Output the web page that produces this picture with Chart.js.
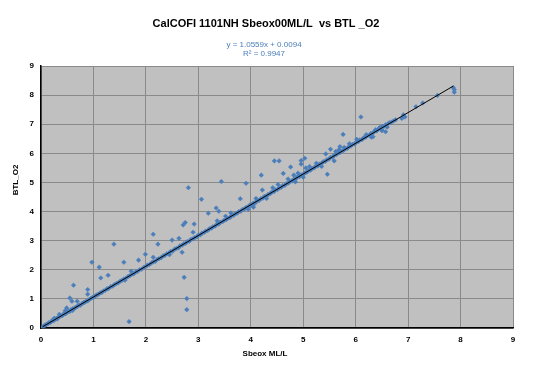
<!DOCTYPE html>
<html>
<head>
<meta charset="utf-8">
<script src="https://cdn.jsdelivr.net/npm/chart.js@4.4.1/dist/chart.umd.min.js"></script>
<style>
  html, body { margin: 0; padding: 0; background: #ffffff; }
  #wrap { width: 534px; height: 372px; }
</style>
</head>
<body>
<div id="wrap"><canvas id="c" width="534" height="372"></canvas></div>
<script>
// ---- Data ----
const chartTitle = 'CalCOFI 1101NH Sbeox00ML/L  vs BTL _O2';
const equationLines = ['y = 1.0559x + 0.0094', 'R\u00B2 = 0.9947'];
const xTitle = 'Sbeox ML/L';
const yTitle = 'BTL_O2';
const xTicks = [0, 1, 2, 3, 4, 5, 6, 7, 8, 9];
const yTicks = [0, 1, 2, 3, 4, 5, 6, 7, 8, 9];

// Sbeox (x) values
const sbeox = [
  0.03,0.05,0.08,0.10,0.13,0.15,0.18,0.20,0.22,0.24,0.27,0.29,0.31,0.33,0.36,0.38,0.41,0.43,0.45,0.47,
  0.50,0.53,0.55,0.57,0.60,0.62,0.65,0.68,0.70,0.73,0.75,0.78,0.81,0.83,0.86,0.89,0.92,0.95,0.98,1.01,
  1.04,1.07,1.10,1.13,1.16,1.19,1.23,1.26,1.29,1.33,1.37,1.40,1.44,1.47,1.51,1.54,1.58,1.62,1.66,1.69,
  1.73,1.77,1.81,1.84,1.88,1.92,1.96,2.00,2.03,2.07,2.11,2.14,2.18,2.22,2.25,2.29,2.33,2.36,2.40,2.44,
  2.47,2.51,2.55,2.58,2.62,2.65,2.69,2.72,2.76,2.79,2.83,2.86,2.90,2.93,2.97,3.00,3.04,3.07,3.11,3.14,
  3.18,3.21,3.25,3.28,3.32,3.35,3.39,3.42,3.46,3.49,3.53,3.56,3.60,3.63,3.67,3.70,3.74,3.77,3.81,3.84,
  3.88,3.91,3.95,3.98,4.02,4.05,4.09,4.12,4.16,4.19,4.23,4.26,4.30,4.33,4.37,4.40,4.44,4.47,4.51,4.54,
  4.58,4.61,4.65,4.68,4.72,4.75,4.79,4.82,4.86,4.89,4.93,4.96,5.00,5.03,5.07,5.10,5.14,5.17,5.21,5.24,
  5.28,5.31,5.35,5.38,5.42,5.45,5.49,5.52,5.56,5.59,5.63,5.66,5.70,5.73,5.77,5.80,5.84,5.87,5.91,5.94,
  5.98,6.01,6.05,6.08,6.12,6.15,6.19,6.22,6.26,6.29,6.33,6.36,6.40,6.43,6.47,6.50,6.54,6.57,6.61,6.64,
  6.68,6.72,6.76,
  3.36,3.52,3.62,4.10,4.42,4.52,4.71,4.82,4.90,5.05,5.12,5.25,5.62,5.68,5.78,5.88,6.02,6.20,6.38,6.50,6.60,
  3.95,4.05,4.30,4.85,5.00,5.35,5.59,6.30,6.50,2.45,1.60,0.60,
  2.14,1.39,2.23,0.97,1.11,1.58,1.99,1.86,2.14,1.14,1.28,0.62,0.89,0.89,0.55,0.59,0.69,0.49,0.46,0.35,
  0.25,1.68,1.72,
  2.81,3.44,3.91,4.20,3.06,3.80,3.19,3.34,3.39,2.71,2.75,2.92,2.90,2.50,2.63,2.69,2.73,2.78,2.78,
  6.10,5.76,4.45,4.54,4.96,4.96,5.03,4.62,4.76,5.46,5.43,5.52,5.70,4.22,6.46,6.57,6.33,4.04,
  6.94,6.91,6.88,7.15,7.28,7.56,7.86,7.88,7.88
];

// BTL_O2 (y) values
const btlO2 = [
  0.02,0.07,0.10,0.12,0.14,0.18,0.19,0.23,0.27,0.25,0.30,0.33,0.31,0.37,0.40,0.42,0.43,0.47,0.51,0.49,
  0.54,0.58,0.57,0.62,0.66,0.64,0.70,0.72,0.76,0.79,0.78,0.83,0.87,0.88,0.92,0.93,0.98,1.01,1.05,1.06,
  1.11,1.14,1.16,1.21,1.22,1.27,1.30,1.35,1.36,1.42,1.44,1.49,1.53,1.55,1.61,1.63,1.68,1.71,1.77,1.79,
  1.84,1.86,1.93,1.94,2.00,2.02,2.08,2.12,2.16,2.18,2.24,2.27,2.29,2.36,2.38,2.41,2.48,2.49,2.55,2.57,
  2.63,2.64,2.71,2.73,2.75,2.82,2.84,2.89,2.91,2.97,2.98,3.05,3.06,3.11,3.13,3.19,3.20,3.26,3.28,3.33,
  3.35,3.41,3.43,3.48,3.50,3.56,3.57,3.63,3.65,3.70,3.72,3.77,3.79,3.85,3.87,3.92,3.94,4.00,4.01,4.07,
  4.09,4.14,4.16,4.22,4.23,4.29,4.30,4.37,4.38,4.44,4.46,4.52,4.53,4.59,4.61,4.67,4.68,4.74,4.76,4.81,
  4.83,4.89,4.90,4.96,4.98,5.04,5.05,5.11,5.13,5.19,5.20,5.26,5.27,5.33,5.35,5.41,5.42,5.48,5.50,5.56,
  5.57,5.63,5.65,5.71,5.72,5.78,5.80,5.86,5.87,5.93,5.95,6.01,6.02,6.08,6.10,6.16,6.17,6.23,6.25,6.31,
  6.32,6.38,6.40,6.46,6.47,6.53,6.55,6.61,6.62,6.68,6.70,6.76,6.77,6.83,6.85,6.91,6.92,6.98,7.00,7.05,
  7.07,7.11,7.15,
  3.68,3.84,3.95,4.45,4.82,4.93,5.12,5.25,5.32,5.50,5.55,5.66,6.06,6.12,6.20,6.33,6.48,6.64,6.81,6.80,6.90,
  4.08,4.15,4.45,5.02,5.18,5.55,5.74,6.55,6.78,2.52,1.64,0.60,
  3.22,2.88,2.88,2.26,2.09,2.26,2.53,2.33,2.43,1.72,1.81,1.47,1.32,1.16,1.03,0.92,0.92,0.69,0.59,0.47,
  0.33,0.22,1.95,
  4.82,5.03,4.97,5.25,4.42,4.44,3.94,4.12,4.01,3.54,3.62,3.57,3.29,3.02,3.08,2.60,1.74,1.01,0.63,
  7.25,6.65,5.74,5.74,5.75,5.63,5.83,5.31,5.53,5.28,5.98,6.14,6.23,4.74,6.89,6.74,6.57,4.22,
  7.25,7.32,7.20,7.60,7.73,7.99,8.26,8.19,8.10
];

// Linear trendline from the printed equation
const trendSlope = 1.0559;
const trendIntercept = 0.0094;
const trendX = [0.03, 7.86];

// ---- Build datasets ----
const scatterPoints = sbeox.map((x, i) => ({ x: x, y: btlO2[i] }));
const trendPoints = trendX.map(x => ({ x: x, y: trendSlope * x + trendIntercept }));

const FONT = '"Liberation Sans", Arial, Helvetica, sans-serif';
const BLUE = '#4a7ebb';

const plotBg = {
  id: 'plotBg',
  beforeDraw(chart) {
    const { ctx, chartArea: a } = chart;
    ctx.save();
    ctx.fillStyle = '#ffffff';
    ctx.fillRect(0, 0, chart.width, chart.height);
    ctx.fillStyle = '#c0c0c0';
    ctx.fillRect(a.left, a.top, a.right - a.left, a.bottom - a.top);
    ctx.restore();
  }
};

const texts = {
  id: 'texts',
  afterDraw(chart) {
    const ctx = chart.ctx;
    ctx.save();
    ctx.textAlign = 'center';
    ctx.textBaseline = 'middle';
    ctx.fillStyle = '#000000';
    ctx.font = 'bold 11px ' + FONT;
    ctx.fillText(chartTitle, 266, 24);
    ctx.fillStyle = BLUE;
    ctx.font = '8px ' + FONT;
    ctx.fillText(equationLines[0], 264, 44.5);
    ctx.fillText(equationLines[1], 264, 53.5);
    ctx.fillStyle = '#000000';
    ctx.font = 'bold 8px ' + FONT;
    ctx.fillText(xTitle, 265, 354);
    ctx.translate(16, 180);
    ctx.rotate(-Math.PI / 2);
    ctx.fillText(yTitle, 0, 0);
    ctx.restore();
  }
};

new Chart(document.getElementById('c'), {
  type: 'scatter',
  data: {
    datasets: [
      {
        type: 'line',
        label: 'Trend',
        data: trendPoints,
        borderColor: '#000000',
        borderWidth: 1,
        pointRadius: 0,
        fill: false,
        order: 0
      },
      {
        label: 'BTL_O2',
        data: scatterPoints,
        pointStyle: 'rectRot',
        pointRadius: 2.3,
        pointBackgroundColor: BLUE,
        pointBorderColor: BLUE,
        pointBorderWidth: 0.5,
        order: 1
      }
    ]
  },
  options: {
    responsive: false,
    animation: false,
    events: [],
    layout: { padding: { top: 66, right: 21, bottom: 0, left: 0 } },
    plugins: {
      legend: { display: false },
      tooltip: { enabled: false },
      title: { display: false }
    },
    scales: {
      x: {
        type: 'linear',
        min: xTicks[0],
        max: xTicks[xTicks.length - 1],
        afterBuildTicks(scale) { scale.ticks = xTicks.map(v => ({ value: v })); },
        afterFit(scale) { scale.height = 44; },
        grid: { color: '#8a8a8a', lineWidth: 1, drawTicks: false },
        border: { color: '#000000', width: 1.5 },
        ticks: {
          padding: 7,
          color: '#000000',
          font: { family: FONT, size: 8, weight: 'bold' },
          maxRotation: 0
        }
      },
      y: {
        type: 'linear',
        min: yTicks[0],
        max: yTicks[yTicks.length - 1],
        afterBuildTicks(scale) { scale.ticks = yTicks.map(v => ({ value: v })); },
        afterFit(scale) { scale.width = 41; },
        grid: { color: '#8a8a8a', lineWidth: 1, drawTicks: false },
        border: { color: '#000000', width: 1.5 },
        ticks: {
          padding: 7,
          color: '#000000',
          font: { family: FONT, size: 8, weight: 'bold' }
        }
      }
    }
  },
  plugins: [plotBg, texts]
});
</script>
</body>
</html>
